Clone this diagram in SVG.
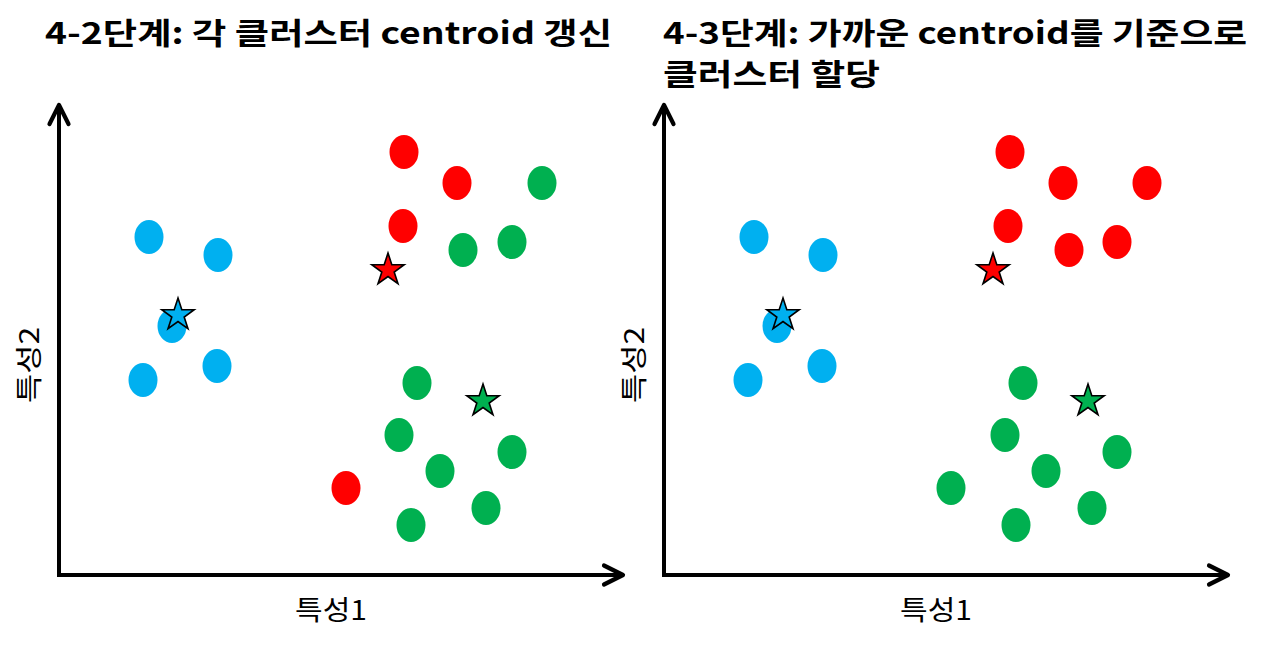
<svg xmlns="http://www.w3.org/2000/svg" width="1280" height="648" viewBox="0 0 1280 648">
<style>
.t{font-family:"Noto Sans CJK KR","Malgun Gothic","Liberation Sans",sans-serif;font-weight:bold;font-size:30px;fill:#000}
.ax{font-family:"Noto Sans CJK KR","Liberation Sans",sans-serif;font-size:27px;fill:#000}
.axis{fill:none;stroke:#000;stroke-width:4}
.b{fill:#00B0F0}
.r{fill:#FF0000}
.g{fill:#00B050}
.st{stroke:#000;stroke-width:1.6;stroke-linejoin:miter}
</style>
<defs>
<marker id="chev" markerUnits="userSpaceOnUse" markerWidth="40" markerHeight="40" viewBox="-30 -20 40 40" refX="0" refY="0" orient="auto-start-reverse">
<path d="M-19,-9.5 L0,0 L-19,9.5" fill="none" stroke="#000" stroke-width="4.2" stroke-linecap="round" stroke-linejoin="round"/>
</marker>
<ellipse id="dot" cx="0" cy="0" rx="14.5" ry="17"/>
<path id="star" d="M0,-17 L3.82,-5.26 L16.17,-5.25 L6.18,2.01 L9.99,13.75 L0,6.5 L-9.99,13.75 L-6.18,2.01 L-16.17,-5.25 L-3.82,-5.26Z"/>
</defs>
<rect width="1280" height="648" fill="#fff"/>

<g id="panel-left">
<text id="title-left" class="t" x="45" y="44" textLength="567" lengthAdjust="spacingAndGlyphs">4-2단계: 각 클러스터 centroid 갱신</text>
<g id="axes-left">
<path class="axis" d="M59,105 V575 H623" marker-start="url(#chev)" marker-end="url(#chev)"/>
</g>
<text id="xlabel-left" class="ax" x="331" y="620" text-anchor="middle" textLength="72" lengthAdjust="spacingAndGlyphs">특성1</text>
<text id="ylabel-left" class="ax" transform="translate(39,365) rotate(-90)" x="0" y="0" text-anchor="middle" textLength="76" lengthAdjust="spacingAndGlyphs">특성2</text>
<g id="points-left">
<use id="L-b1" href="#dot" class="b" x="149" y="237"/>
<use id="L-b2" href="#dot" class="b" x="218" y="255"/>
<use id="L-b3" href="#dot" class="b" x="172" y="326"/>
<use id="L-b4" href="#dot" class="b" x="217" y="366"/>
<use id="L-b5" href="#dot" class="b" x="143" y="380"/>
<use id="L-r1" href="#dot" class="r" x="404" y="152"/>
<use id="L-r2" href="#dot" class="r" x="457" y="183"/>
<use id="L-r3" href="#dot" class="r" x="403" y="226"/>
<use id="L-g1" href="#dot" class="g" x="542" y="183"/>
<use id="L-g2" href="#dot" class="g" x="463" y="250"/>
<use id="L-g3" href="#dot" class="g" x="512" y="242"/>
<use id="L-g4" href="#dot" class="g" x="417" y="383"/>
<use id="L-g5" href="#dot" class="g" x="399" y="435"/>
<use id="L-g6" href="#dot" class="g" x="440" y="471"/>
<use id="L-g7" href="#dot" class="g" x="512" y="452"/>
<use id="L-g8" href="#dot" class="g" x="486" y="508"/>
<use id="L-g9" href="#dot" class="g" x="411" y="525"/>
<use id="L-r4" href="#dot" class="r" x="346" y="488"/>
</g>
<g id="centroids-left">
<use id="L-star-b" href="#star" class="b st" x="178" y="315"/>
<use id="L-star-r" href="#star" class="r st" x="388" y="270"/>
<use id="L-star-g" href="#star" class="g st" x="483" y="401"/>
</g>
</g>

<g id="panel-right">
<text id="title-right-1" class="t" x="663" y="44" textLength="584" lengthAdjust="spacingAndGlyphs">4-3단계: 가까운 centroid를 기준으로</text>
<text id="title-right-2" class="t" x="663" y="85" textLength="217" lengthAdjust="spacingAndGlyphs">클러스터 할당</text>
<g id="axes-right">
<path class="axis" d="M664,105 V575 H1228" marker-start="url(#chev)" marker-end="url(#chev)"/>
</g>
<text id="xlabel-right" class="ax" x="936" y="620" text-anchor="middle" textLength="72" lengthAdjust="spacingAndGlyphs">특성1</text>
<text id="ylabel-right" class="ax" transform="translate(644,365) rotate(-90)" x="0" y="0" text-anchor="middle" textLength="76" lengthAdjust="spacingAndGlyphs">특성2</text>
<g id="points-right">
<use id="R-b1" href="#dot" class="b" x="754" y="237"/>
<use id="R-b2" href="#dot" class="b" x="823" y="255"/>
<use id="R-b3" href="#dot" class="b" x="777" y="326"/>
<use id="R-b4" href="#dot" class="b" x="822" y="366"/>
<use id="R-b5" href="#dot" class="b" x="748" y="380"/>
<use id="R-r1" href="#dot" class="r" x="1010" y="152"/>
<use id="R-r2" href="#dot" class="r" x="1063" y="183"/>
<use id="R-r3" href="#dot" class="r" x="1008" y="226"/>
<use id="R-r4" href="#dot" class="r" x="1147" y="183"/>
<use id="R-r5" href="#dot" class="r" x="1069" y="250"/>
<use id="R-r6" href="#dot" class="r" x="1117" y="242"/>
<use id="R-g1" href="#dot" class="g" x="1023" y="383"/>
<use id="R-g2" href="#dot" class="g" x="1005" y="435"/>
<use id="R-g3" href="#dot" class="g" x="1046" y="471"/>
<use id="R-g4" href="#dot" class="g" x="1117" y="452"/>
<use id="R-g5" href="#dot" class="g" x="1092" y="508"/>
<use id="R-g6" href="#dot" class="g" x="1016" y="525"/>
<use id="R-g7" href="#dot" class="g" x="951" y="488"/>
</g>
<g id="centroids-right">
<use id="R-star-b" href="#star" class="b st" x="783" y="315"/>
<use id="R-star-r" href="#star" class="r st" x="993" y="270"/>
<use id="R-star-g" href="#star" class="g st" x="1088" y="401"/>
</g>
</g>
</svg>
